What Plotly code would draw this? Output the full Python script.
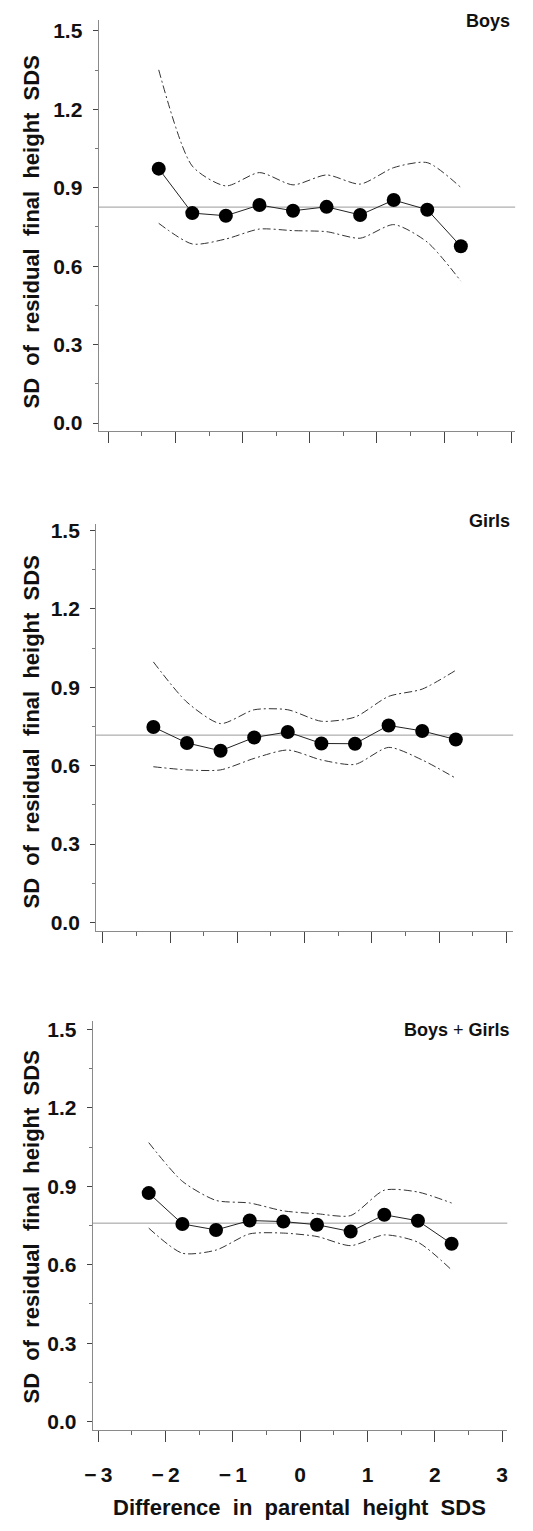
import plotly.graph_objects as go

# The page body has an 8px default margin: build the figure smaller and
# shift every pixel position by that offset so it lands where intended.
PAGE_W, PAGE_H = 533, 1531
OFF = 8
W, H = PAGE_W - 2 * OFF, PAGE_H - 2 * OFF

# ---------------- data ----------------
bin_mid = [-2.25, -1.75, -1.25, -0.75, -0.25, 0.25, 0.75, 1.25, 1.75, 2.25]

boys_sd = [0.973, 0.803, 0.793, 0.834, 0.812, 0.827, 0.796, 0.853, 0.816, 0.676]
boys_upper = [1.351, 0.983, 0.907, 0.958, 0.911, 0.949, 0.914, 0.977, 0.996, 0.901]
boys_lower = [0.764, 0.685, 0.704, 0.742, 0.736, 0.732, 0.707, 0.759, 0.692, 0.543]
boys_ref = 0.826

girls_sd = [0.748, 0.687, 0.657, 0.708, 0.729, 0.685, 0.684, 0.754, 0.733, 0.700]
girls_upper = [0.997, 0.843, 0.761, 0.814, 0.814, 0.770, 0.786, 0.865, 0.893, 0.965]
girls_lower = [0.596, 0.584, 0.584, 0.628, 0.660, 0.622, 0.605, 0.670, 0.622, 0.552]
girls_ref = 0.717

all_sd = [0.874, 0.756, 0.733, 0.769, 0.765, 0.753, 0.727, 0.791, 0.768, 0.680]
all_upper = [1.067, 0.919, 0.846, 0.836, 0.806, 0.795, 0.788, 0.885, 0.878, 0.836]
all_lower = [0.740, 0.644, 0.656, 0.718, 0.721, 0.708, 0.673, 0.714, 0.686, 0.580]
all_ref = 0.759

panel_labels = ["<b>Boys</b>", "<b>Girls</b>", "<b>Boys</b> + <b>Girls</b>"]
x_tickvals = [-3, -2, -1, 0, 1, 2, 3]
x_ticktext = ["\u2212\u20093", "\u2212\u20092", "\u2212\u20091", "0", "1", "2", "3"]
y_tickvals = [0.0, 0.3, 0.6, 0.9, 1.2, 1.5]
y_ticktext = ["0.0", "0.3", "0.6", "0.9", "1.2", "1.5"]
y_title = "SD\u00a0\u00a0of\u00a0\u00a0residual\u00a0\u00a0final\u00a0\u00a0height\u00a0\u00a0SDS"
x_title = "Difference\u00a0\u00a0in\u00a0\u00a0parental\u00a0\u00a0height\u00a0\u00a0SDS"

panels = [
    (boys_sd, boys_upper, boys_lower, boys_ref),
    (girls_sd, girls_upper, girls_lower, girls_ref),
    (all_sd, all_upper, all_lower, all_ref),
]

# ---------------- geometry (page pixels) ----------------
# x0, x1, ytop, ybot, px of x=-3, px per x unit, px of y=0, px per y unit
geom = [
    (92, 516, 15, 428, 102.0, 68.33, 420.5, 263.0),
    (89.5, 514, 522, 931, 96.5, 68.4, 923.0, 263.0),
    (86, 508, 1022, 1433, 91.7, 68.5, 1425.0, 263.0),
]
ytitle_centers = [228, 731, 1229]
label_centers = [16, 519, 1031]


def px(xp):
    return (xp - OFF) / W


def py(yp):
    return 1 - (yp - OFF) / H


FONT = "Liberation Sans, Arial, Helvetica, sans-serif"
fig = go.Figure()

for i, ((sd, up, lo, ref), g) in enumerate(zip(panels, geom)):
    n = i + 1
    xa = "x" if n == 1 else f"x{n}"
    ya = "y" if n == 1 else f"y{n}"
    x0, x1, yt, yb, pxm3, ux, py0, uy = g
    xr = [-3 - (pxm3 - x0) / ux, -3 + (x1 - pxm3) / ux]
    yr = [-(yb - py0) / uy, (py0 - yt) / uy]

    for band in (up, lo):
        fig.add_trace(go.Scatter(
            x=bin_mid, y=band, mode="lines", xaxis=xa, yaxis=ya,
            line=dict(color="#333333", width=1, dash="8px,3px,2px,3px",
                      shape="spline", smoothing=0.7),
            showlegend=False, hoverinfo="skip"))
    fig.add_trace(go.Scatter(
        x=bin_mid, y=sd, mode="lines+markers", xaxis=xa, yaxis=ya,
        line=dict(color="#222222", width=1),
        marker=dict(color="black", size=14),
        showlegend=False))
    fig.add_shape(type="line", xref=f"{xa} domain", yref=ya,
                  x0=0, x1=1, y0=ref, y1=ref,
                  line=dict(color="#9a9a9a", width=1), layer="below")

    xkey = "xaxis" if n == 1 else f"xaxis{n}"
    ykey = "yaxis" if n == 1 else f"yaxis{n}"
    fig.update_layout(**{
        xkey: dict(
            domain=[px(x0), px(x1)], range=xr, anchor=ya,
            showgrid=False, zeroline=False,
            showline=True, linecolor="#8a8a8a", linewidth=1,
            tickmode="array", tickvals=x_tickvals, ticktext=x_ticktext,
            ticks="outside", ticklen=11, tickwidth=1, tickcolor="#444444",
            minor=dict(tickmode="linear", tick0=0, dtick=0.5, ticks="outside",
                       ticklen=4, tickwidth=1, tickcolor="#666666"),
            showticklabels=(n == 3), ticklabelstandoff=15,
            tickfont=dict(family=FONT, size=21, color="#111111", weight="bold"),
        ),
        ykey: dict(
            domain=[py(yb), py(yt)], range=yr, anchor=xa,
            showgrid=False, zeroline=False,
            showline=True, linecolor="#8a8a8a", linewidth=1,
            tickmode="array", tickvals=y_tickvals, ticktext=y_ticktext,
            ticks="outside", ticklen=5, tickwidth=1, tickcolor="#444444",
            minor=dict(tickmode="linear", tick0=0, dtick=0.15, ticks="outside",
                       ticklen=3, tickwidth=1, tickcolor="#777777"),
            ticklabelstandoff=6,
            tickfont=dict(family=FONT, size=21, color="#111111", weight="bold"),
        ),
    })

    fig.add_annotation(text=f"<b>{y_title}</b>", textangle=-90,
                       xref="paper", yref="paper", x=px(24), y=py(ytitle_centers[i]),
                       xanchor="center", yanchor="middle", showarrow=False,
                       font=dict(family=FONT, size=22, color="#111111"))
    fig.add_annotation(text=panel_labels[i],
                       xref="paper", yref="paper", x=px(513), y=py(label_centers[i]),
                       xanchor="right", yanchor="middle", showarrow=False,
                       font=dict(family=FONT, size=18, color="#111111"))

fig.add_annotation(text=f"<b>{x_title}</b>",
                   xref="paper", yref="paper", x=px(297), y=py(1511),
                   xanchor="center", yanchor="middle", showarrow=False,
                   font=dict(family=FONT, size=22, color="#111111"))

fig.update_layout(
    width=W, height=H, autosize=False,
    margin=dict(l=0, r=0, t=0, b=0, pad=0),
    paper_bgcolor="white", plot_bgcolor="white",
    showlegend=False,
)

fig.write_html("out.html")
